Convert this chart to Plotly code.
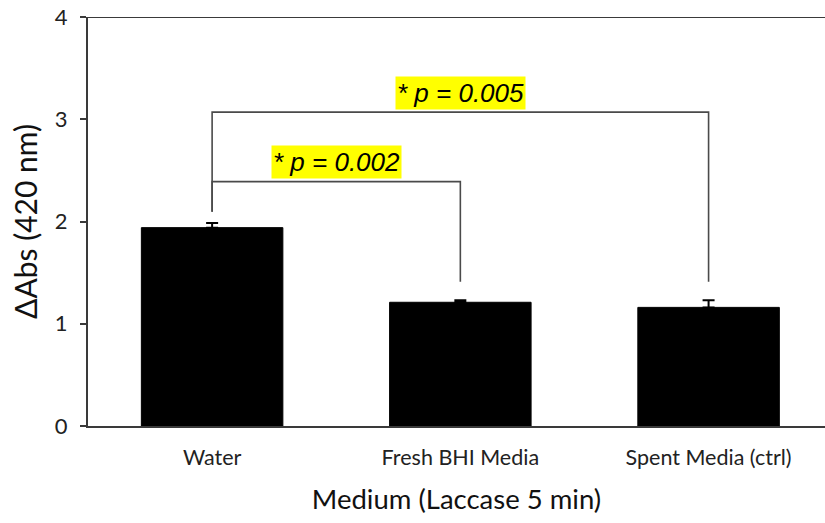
import plotly.graph_objects as go

# Laccase assay: change in absorbance at 420 nm after 5 min in each medium
categories = ["Water", "Fresh BHI Media", "Spent Media (ctrl)"]
delta_abs = [1.94, 1.21, 1.16]
sem = [0.045, 0.02, 0.07]

# Significance brackets: (from index, to index, bracket height, left drop, right drop, label)
brackets = [
    (0, 1, 2.39, 2.095, 1.41, "* p = 0.002"),
    (0, 2, 3.07, 2.095, 1.41, "* p = 0.005"),
]

y_ticks = [0, 1, 2, 3, 4]

label_font = "Lato, 'Open Sans', sans-serif"
bracket_color = "#4a4a4a"
axis_color = "#3a3a3a"

fig = go.Figure()
fig.add_trace(go.Bar(
    x=list(range(len(categories))),
    y=delta_abs,
    width=0.57,
    marker=dict(color="black", line=dict(color="black", width=1)),
    error_y=dict(type="data", array=sem, symmetric=False, arrayminus=[0] * len(sem),
                 color="black", thickness=2, width=6, visible=True),
    showlegend=False,
))

shapes = []
annotations = []
for i0, i1, h, d0, d1, text in brackets:
    shapes.append(dict(type="path", xref="x", yref="y",
                       path=f"M {i0},{d0} L {i0},{h} L {i1},{h} L {i1},{d1}",
                       line=dict(color=bracket_color, width=1.6)))
    annotations.append(dict(
        x=(i0 + i1) / 2, y=h + 0.19, xref="x", yref="y",
        text=text, showarrow=False,
        font=dict(family="Liberation Sans, Arial, sans-serif", size=26, color="black", style="italic"),
        bgcolor="#ffff00", borderpad=1,
    ))

# top frame line
shapes.append(dict(type="line", xref="paper", yref="y", x0=0, x1=1, y0=4, y1=4,
                   line=dict(color=axis_color, width=2)))

fig.update_layout(
    width=825, height=523,
    margin=dict(l=88, r=0, t=17, b=97),
    paper_bgcolor="white", plot_bgcolor="white",
    shapes=shapes, annotations=annotations,
    bargap=0.43,
)
fig.update_xaxes(
    range=[-0.5, 2.469],
    tickmode="array", tickvals=list(range(len(categories))), ticktext=categories,
    tickfont=dict(family=label_font, size=21.5, color="#222"),
    ticklabelstandoff=11,
    showline=True, linecolor=axis_color, linewidth=2,
    ticks="", showgrid=False, zeroline=False,
    title=dict(text="Medium (Laccase 5 min)", standoff=21,
               font=dict(family=label_font, size=27.5, color="#111")),
)
fig.update_yaxes(
    range=[0, 4], tickvals=y_ticks,
    tickfont=dict(family=label_font, size=22, color="#222"),
    ticklabelstandoff=8,
    showline=True, linecolor=axis_color, linewidth=2,
    ticks="outside", ticklen=6, tickwidth=2, tickcolor=axis_color,
    showgrid=False, zeroline=False,
    title=dict(text="ΔAbs (420 nm)", standoff=8,
               font=dict(family=label_font, size=30, color="#111")),
)

fig.write_html("out.html")
